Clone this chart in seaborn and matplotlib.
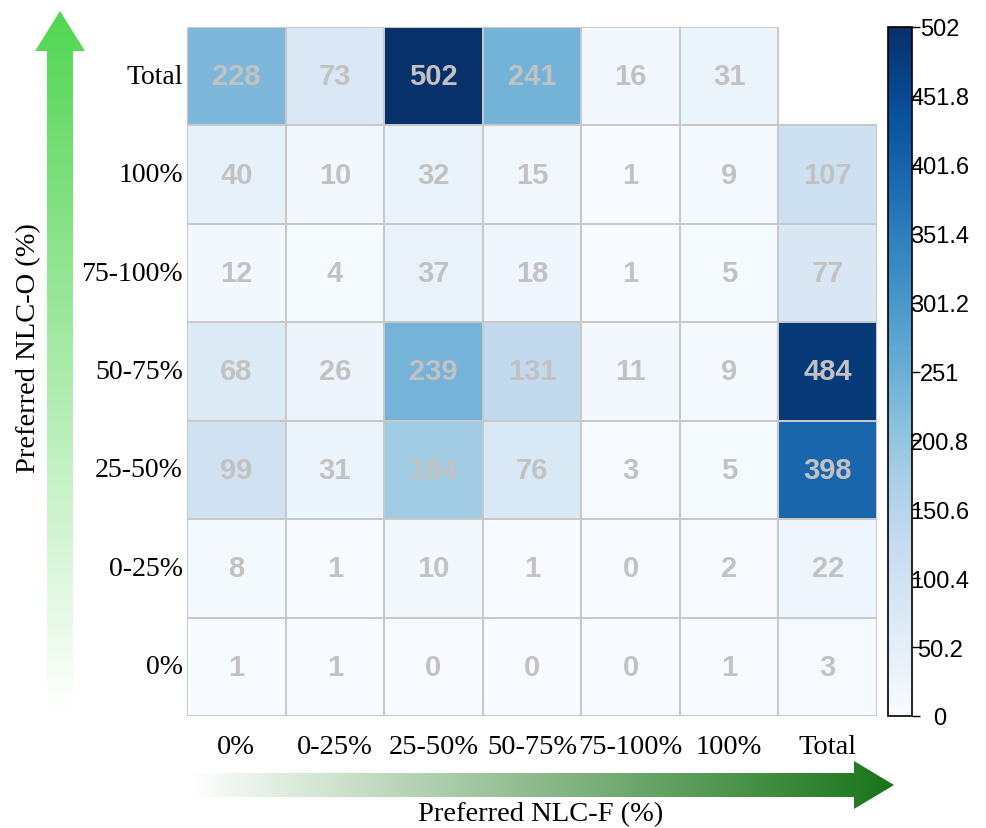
import numpy as np
import pandas as pd
import seaborn as sns
import matplotlib.pyplot as plt
from matplotlib.patches import Polygon
from matplotlib.colors import LinearSegmentedColormap, to_rgba

# 数据：行 = NLC-O 偏好，列 = NLC-F 偏好
row_labels = ["Total", "100%", "75-100%", "50-75%", "25-50%", "0-25%", "0%"]
col_labels = ["0%", "0-25%", "25-50%", "50-75%", "75-100%", "100%", "Total"]

row_total = [228, 73, 502, 241, 16, 31, np.nan]
row_100 = [40, 10, 32, 15, 1, 9, 107]
row_75_100 = [12, 4, 37, 18, 1, 5, 77]
row_50_75 = [68, 26, 239, 131, 11, 9, 484]
row_25_50 = [99, 31, 184, 76, 3, 5, 398]
row_0_25 = [8, 1, 10, 1, 0, 2, 22]
row_0 = [1, 1, 0, 0, 0, 1, 3]

df = pd.DataFrame(
    [row_total, row_100, row_75_100, row_50_75, row_25_50, row_0_25, row_0],
    index=row_labels, columns=col_labels,
)

W, H = 986, 829
fig = plt.figure(figsize=(W / 100, H / 100), dpi=100)

serif = ["Liberation Serif", "DejaVu Serif"]
sans = ["Liberation Sans", "DejaVu Sans"]

# 背景箭头层（像素坐标）
bg = fig.add_axes([0, 0, 1, 1])
bg.set_xlim(0, W)
bg.set_ylim(H, 0)
bg.axis("off")


def gradient_arrow(ax, pts, extent, c_start, c_end, vertical):
    t = np.linspace(0, 1, 256)
    cmap = LinearSegmentedColormap.from_list("g", [c_start, c_end])
    grad = t[:, None] if vertical else t[None, :]
    im = ax.imshow(grad, cmap=cmap, extent=extent, origin="lower",
                   aspect="auto", interpolation="bilinear", zorder=0)
    poly = Polygon(pts, closed=True, facecolor="none", edgecolor="none",
                   transform=ax.transData)
    ax.add_patch(poly)
    im.set_clip_path(poly)


# 竖向箭头（上）
v_pts = [(47, 712), (73, 712), (73, 52), (85, 52), (60, 12), (35, 52), (47, 52)]
gradient_arrow(bg, v_pts, (35, 85, 712, 12), "#ffffff", "#52d652", True)
# 横向箭头（右）
h_pts = [(187, 774), (854, 774), (854, 762), (894, 786), (854, 810), (854, 798), (187, 798)]
gradient_arrow(bg, h_pts, (187, 894, 810, 762), "#ffffff", "#187418", False)
bg.set_xlim(0, W)
bg.set_ylim(H, 0)

ax = fig.add_axes([187 / W, 1 - 717 / H, 690 / W, 689 / H])
cax = fig.add_axes([888 / W, 1 - 717 / H, 24 / W, 689 / H])

line_col = "#c8c8c8"
sns.heatmap(
    df, ax=ax, cbar_ax=cax, mask=df.isna(), cmap="Blues", vmin=0, vmax=502,
    annot=True, fmt=".0f",
    annot_kws={"color": "#c2c2c2", "fontweight": "bold", "fontsize": 21,
               "family": sans},
    linewidths=1.2, linecolor=line_col,
)

# 被遮住的格子不画边框
mesh = ax.collections[0]
hidden = np.ma.getmaskarray(mesh.get_array()).ravel()
ec = np.tile(to_rgba(line_col), (hidden.size, 1))
ec[hidden] = (1, 1, 1, 0)
mesh.set_edgecolors(ec)

ax.tick_params(axis="both", length=0)
ax.set_xticklabels(col_labels, rotation=0, fontsize=20.5, family=serif)
ax.set_yticklabels(row_labels, rotation=0, fontsize=20, family=serif)
ax.tick_params(axis="x", pad=13)
ax.tick_params(axis="y", pad=3)
ax.set_xlabel("")
ax.set_ylabel("")

# 色条
cbar = mesh.colorbar
ticks = np.linspace(0, 502, 11)
cbar.set_ticks(ticks)
cbar.set_ticklabels([f"{v:g}" for v in ticks])
cbar.outline.set_edgecolor("black")
cbar.outline.set_linewidth(1.2)
cax.tick_params(labelsize=17, length=6, width=1, pad=14)
for lbl in cax.get_yticklabels():
    lbl.set_horizontalalignment("center")
    lbl.set_family(sans)

fig.text(0.548, 1 - 815 / H, "Preferred NLC-F (%)", ha="center", va="center",
         fontsize=20.5, family=serif)
fig.text(29 / W, 1 - 348 / H, "Preferred NLC-O (%)", ha="center", va="center",
         rotation=90, fontsize=20.5, family=serif)

fig.savefig("out.png", dpi=100)
